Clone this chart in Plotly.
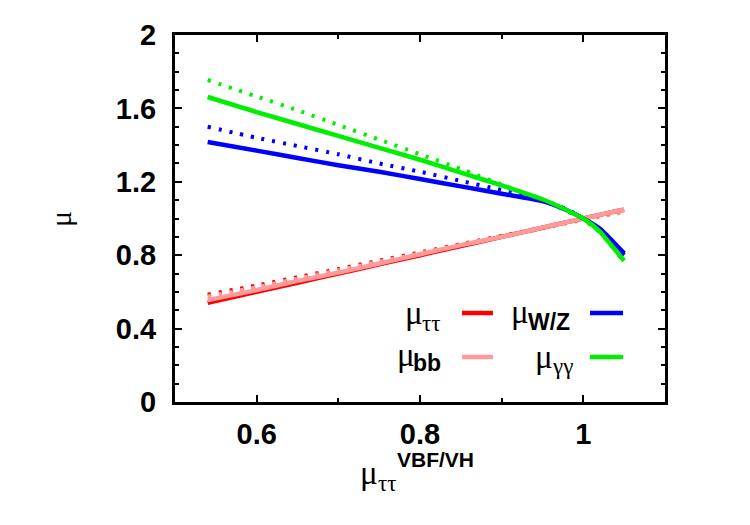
import plotly.graph_objects as go

# ---------------- data ----------------
x_vals = [0.54, 0.60, 0.65, 0.70, 0.75, 0.80, 0.85, 0.90, 0.95, 0.98, 1.00, 1.02, 1.035, 1.05]

mu_tautau_solid = [0.540, 0.600, 0.650, 0.700, 0.750, 0.800, 0.850, 0.900, 0.950, 0.980, 1.000, 1.020, 1.035, 1.048]
mu_bb_solid     = [0.555, 0.610, 0.660, 0.705, 0.755, 0.805, 0.855, 0.900, 0.950, 0.980, 1.000, 1.020, 1.035, 1.048]
mu_tautau_dot   = [0.585, 0.635, 0.680, 0.725, 0.770, 0.815, 0.860, 0.905, 0.950, 0.978, 0.995, 1.012, 1.025, 1.037]
mu_bb_dot       = [0.575, 0.625, 0.672, 0.718, 0.764, 0.810, 0.856, 0.900, 0.946, 0.974, 0.992, 1.010, 1.022, 1.033]
mu_wz_solid     = [1.417, 1.370, 1.330, 1.290, 1.255, 1.215, 1.175, 1.135, 1.095, 1.045, 1.000, 0.945, 0.880, 0.810]
mu_wz_dot       = [1.500, 1.440, 1.395, 1.350, 1.300, 1.255, 1.205, 1.155, 1.100, 1.050, 1.000, 0.940, 0.870, 0.800]
mu_gg_solid     = [1.662, 1.580, 1.515, 1.450, 1.385, 1.320, 1.250, 1.180, 1.105, 1.045, 1.000, 0.930, 0.850, 0.770]
mu_gg_dot       = [1.755, 1.665, 1.590, 1.510, 1.430, 1.350, 1.270, 1.185, 1.100, 1.040, 0.995, 0.925, 0.850, 0.760]

x_ticks = [0.6, 0.8, 1.0]
x_tick_labels = ["0.6", "0.8", "1"]
y_ticks = [0, 0.4, 0.8, 1.2, 1.6, 2.0]
y_tick_labels = ["0", "0.4", "0.8", "1.2", "1.6", "2"]

RED = "#ff0000"
PINK = "#ff9a9a"
BLUE = "#0000ff"
GREEN = "#00ee00"

# ---------------- figure ----------------
W, H = 750, 525
L, R, T, B = 175, 85, 35, 123
PW, PH = W - L - R, H - T - B


def px(xp):
    return (xp - L) / PW


def py(yp):
    return (H - B - yp) / PH


fig = go.Figure()

series = [
    (mu_tautau_dot, RED, "dot"),
    (mu_bb_dot, PINK, "dot"),
    (mu_wz_dot, BLUE, "dot"),
    (mu_gg_dot, GREEN, "dot"),
    (mu_tautau_solid, RED, "solid"),
    (mu_bb_solid, PINK, "solid"),
    (mu_wz_solid, BLUE, "solid"),
    (mu_gg_solid, GREEN, "solid"),
]
for ys, col, style in series:
    fig.add_trace(go.Scatter(
        x=x_vals, y=ys, mode="lines", showlegend=False, hoverinfo="skip",
        line=dict(color=col, width=4.5 if style == "solid" else 4,
                  dash="solid" if style == "solid" else "3px,8px",
                  shape="spline", smoothing=0.6),
    ))

SERIF = "Liberation Serif"
SANS = "Liberation Sans"

axis_common = dict(
    showgrid=False, zeroline=False, showline=True, linecolor="black", linewidth=3,
    mirror="allticks", ticks="inside", ticklen=7, tickwidth=2, tickcolor="black",
    tickfont=dict(family=SANS, size=29, color="black", weight="bold"),
)

fig.update_xaxes(range=[0.5, 1.1], tickvals=x_ticks, ticktext=x_tick_labels,
                 minor=dict(dtick=0.1, tick0=0.5, ticks="inside", ticklen=4, tickwidth=2, tickcolor="black"),
                 ticklabelstandoff=4, **axis_common)
fig.update_yaxes(range=[0, 2], tickvals=y_ticks, ticktext=y_tick_labels,
                 minor=dict(dtick=0.1, tick0=0, ticks="inside", ticklen=4, tickwidth=2, tickcolor="black"),
                 ticklabelstandoff=10, **axis_common)

ann = []


def text(xp, yp, s, font, size, xanchor="center", bold=False, angle=0):
    ann.append(dict(
        x=px(xp), y=py(yp), xref="paper", yref="paper", text=s, showarrow=False,
        xanchor=xanchor, yanchor="middle", textangle=angle, borderpad=0,
        font=dict(family=font, size=size, color="black", weight="bold" if bold else "normal"),
    ))


# y-axis title
text(60, 219, "μ", SERIF, 30, angle=-90)
# x-axis title
text(379, 473, "μ", SERIF, 33, xanchor="right")
text(377, 483, "ττ", SERIF, 23, xanchor="left")
text(396, 460, "VBF/VH", SANS, 21, xanchor="left", bold=True)

# legend labels
text(424, 313, "μ", SERIF, 33, xanchor="right")
text(421, 323, "ττ", SERIF, 23, xanchor="left")
text(530, 312, "μ", SERIF, 33, xanchor="right")
text(527, 322, "W/Z", SANS, 23, xanchor="left", bold=True)
text(416, 355, "μ", SERIF, 33, xanchor="right")
text(412, 363, "bb", SANS, 23, xanchor="left", bold=True)
text(554, 357, "μ", SERIF, 33, xanchor="right")
text(551, 366, "γγ", SERIF, 23, xanchor="left")

shapes = []
for (x0, x1, yp, col) in [(462, 493, 313, RED), (590, 623, 313, BLUE),
                          (462, 493, 357, PINK), (590, 623, 357, GREEN)]:
    shapes.append(dict(type="line", xref="paper", yref="paper",
                       x0=px(x0), x1=px(x1), y0=py(yp), y1=py(yp),
                       line=dict(color=col, width=4.5)))

fig.update_layout(
    width=W, height=H, margin=dict(l=L, r=R, t=T, b=B),
    paper_bgcolor="white", plot_bgcolor="white",
    annotations=ann, shapes=shapes, showlegend=False,
)

fig.write_html("out.html")
